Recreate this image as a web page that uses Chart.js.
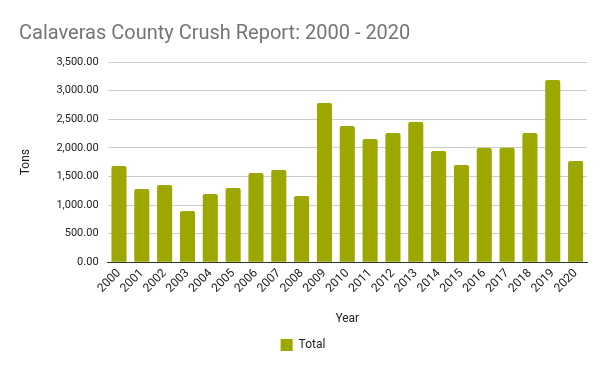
<!DOCTYPE html>
<html lang="en">
<head>
  <meta charset="UTF-8">
  <title>Calaveras County Crush Report</title>
  <script src="https://cdn.jsdelivr.net/npm/chart.js"></script>
  <style>
    html, body { margin: 0; padding: 0; background: #fff; }
    #chart-container { width: 605px; height: 369px; }
  </style>
</head>
<body>
  <div id="chart-container">
    <canvas id="crushChart"></canvas>
  </div>

  <script>
    const years = ['2000', '2001', '2002', '2003', '2004', '2005', '2006', '2007', '2008', '2009', '2010',
                   '2011', '2012', '2013', '2014', '2015', '2016', '2017', '2018', '2019', '2020'];
    const totalTons = [1685, 1282, 1351, 897, 1194, 1299, 1561, 1614, 1159, 2785, 2383,
                       2156, 2260, 2453, 1946, 1701, 1998, 2000, 2260, 3187, 1771];
    const yTicks = [0, 500, 1000, 1500, 2000, 2500, 3000, 3500];

    const fmt = v => v.toLocaleString('en-US', { minimumFractionDigits: 2, maximumFractionDigits: 2 });

    const ctx = document.getElementById('crushChart').getContext('2d');
    new Chart(ctx, {
      type: 'bar',
      data: {
        labels: years,
        datasets: [{
          label: 'Total',
          data: totalTons,
          backgroundColor: '#9ca700',
          borderRadius: { topLeft: 2, topRight: 2 },
          borderSkipped: 'bottom',
          barPercentage: 0.66,
          categoryPercentage: 1
        }]
      },
      options: {
        responsive: true,
        maintainAspectRatio: false,
        animation: false,
        layout: { padding: { left: 19, right: 18, top: 14, bottom: 8 } },
        plugins: {
          title: {
            display: true,
            text: 'Calaveras County Crush Report: 2000 - 2020',
            align: 'start',
            color: '#757575',
            font: { family: 'Roboto', size: 20, weight: 'normal' },
            padding: { top: 8, bottom: 16 }
          },
          legend: {
            position: 'bottom',
            labels: {
              color: '#222',
              font: { family: 'Roboto', size: 12 },
              boxWidth: 12,
              boxHeight: 12,
              padding: 10
            }
          },
          tooltip: { enabled: false }
        },
        scales: {
          x: {
            grid: { display: false, drawTicks: false },
            border: { color: '#333', width: 1 },
            ticks: {
              color: '#222',
              font: { family: 'Roboto', size: 12 },
              autoSkip: false,
              minRotation: 45,
              maxRotation: 45,
              padding: 4
            },
            title: {
              display: true,
              text: 'Year',
              color: '#222',
              font: { family: 'Roboto', size: 12 },
              padding: { top: 12, bottom: 3 }
            }
          },
          y: {
            min: 0,
            max: 3500,
            afterBuildTicks: axis => { axis.ticks = yTicks.map(v => ({ value: v })); },
            grid: { color: '#cccccc', drawTicks: false },
            border: { display: false },
            ticks: {
              color: '#222',
              font: { family: 'Roboto', size: 11 },
              padding: 9,
              callback: v => fmt(v)
            },
            title: {
              display: true,
              text: 'Tons',
              color: '#222',
              font: { family: 'Roboto', size: 12 },
              padding: { top: 0, bottom: 14 }
            }
          }
        }
      }
    });
  </script>
</body>
</html>
